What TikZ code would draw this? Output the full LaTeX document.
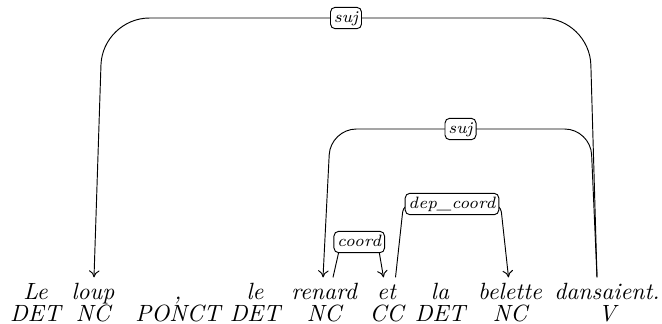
\documentclass[tikz,border=0pt]{standalone}
\usepackage{tikz}
\usetikzlibrary{arrows.meta,calc}

\begin{document}
\begin{tikzpicture}[
  x=0.4255pt, y=-0.4255pt,
  word/.style={anchor=base, inner xsep=2pt, inner ysep=0pt, text height=9pt, text depth=0pt, font=\itshape},
  tag/.style={anchor=base, inner sep=0pt, font=\itshape},
  deplabel/.style={draw, fill=white, rounded corners=2pt, inner sep=1.4pt, text height=5pt, text depth=1.3pt, font=\scriptsize\itshape},
  dep/.style={-{To[length=3pt, width=4.5pt]}},
]
\useasboundingbox (0,0) rectangle (662,323);

% Words
\node[word] (le1) at (35.5,299) {Le};
\node[word] (loup) at (93,299) {loup};
\node[word] (virg) at (178,299) {,};
\node[word] (le2) at (255,299) {le};
\node[word] (renard) at (324,299) {renard};
\node[word] (et) at (386.5,299) {et};
\node[word] (la) at (440,299) {la};
\node[word] (belette) at (510,299) {belette};
\node[word] (dansaient) at (607,299) {dansaient.};

% Tags
\node[tag] (tle1) at (35.5,321) {DET};
\node[tag] (tloup) at (93,321) {NC};
\node[tag] (tvirg) at (178,321) {PONCT};
\node[tag] (tle2) at (255,321) {DET};
\node[tag] (trenard) at (324,321) {NC};
\node[tag] (tet) at (386.5,321) {CC};
\node[tag] (tla) at (440,321) {DET};
\node[tag] (tbelette) at (510,321) {NC};
\node[tag] (tdansaient) at (607,321) {V};

% Arc heights
\coordinate (h1) at (0,18);
\coordinate (h2) at (0,129);
\coordinate (h3) at (0,204);
\coordinate (h4) at (0,242);

% Arcs
\draw[dep, rounded corners=20pt] ($(dansaient.north)+(-10,0)$) -- ($(dansaient.north |- h1)+(-17.5,0)$)
  -- node[deplabel] {suj} ($(loup.north |- h1)+(9.5,0)$) -- ($(loup.north)+(1,0)$);
\draw[dep, rounded corners=11pt] ($(dansaient.north)+(-10,0)$) -- ($(dansaient.north |- h2)+(-16.5,0)$)
  -- node[deplabel] {suj} ($(renard.north |- h2)+(6.5,0)$) -- ($(renard.north)+(-1,0)$);
\draw[dep, rounded corners=3.5pt] ($(et.north)+(9,0)$) -- ($(et.north |- h3)+(17,0)$)
  -- node[deplabel] {dep\_coord} ($(belette.north |- h3)+(-9.5,0)$) -- ($(belette.north)+(-1.5,0)$);
\draw[dep, rounded corners=3.5pt] ($(renard.north)+(9,0)$) -- ($(renard.north |- h4)+(17,0)$)
  -- node[deplabel] {coord} ($(et.north |- h4)+(-9,0)$) -- ($(et.north)+(-3,0)$);

\end{tikzpicture}
\end{document}
